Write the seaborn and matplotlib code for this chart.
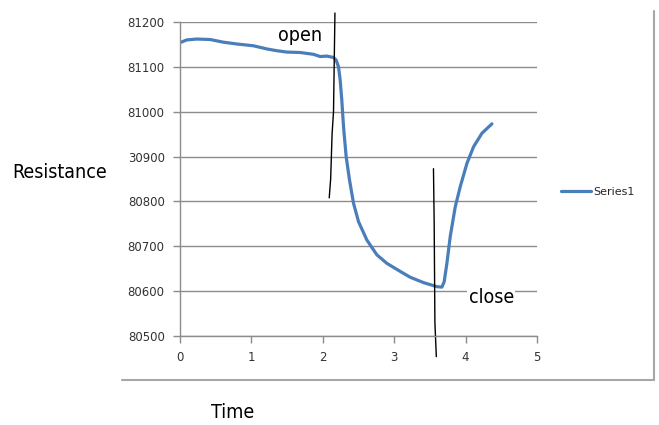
import numpy as np
import pandas as pd
from matplotlib import pyplot as plt
from matplotlib.lines import Line2D
import seaborn as sns

sns.set_style("white")

# resistance curve
time = [0.000, 0.093, 0.234, 0.421, 0.607, 0.794, 1.028, 1.215, 1.355, 1.495,
        1.682, 1.869, 1.963, 2.056, 2.150, 2.187, 2.220, 2.243, 2.266, 2.290,
        2.327, 2.374, 2.430, 2.500, 2.617, 2.757, 2.897, 3.084, 3.224, 3.411,
        3.598, 3.668, 3.700, 3.738, 3.785, 3.855, 3.925, 4.019, 4.112, 4.229,
        4.369]
resistance = [81154, 81160, 81162, 81161, 81155, 81151, 81147, 81140, 81136, 81133,
              81132, 81128, 81123, 81124, 81121, 81115, 81100, 81071, 81026, 80967,
              80900, 80848, 80796, 80755, 80714, 80681, 80662, 80644, 80631, 80619,
              80610, 80609, 80621, 80662, 80722, 80788, 80833, 80885, 80922, 80952,
              80973]

# hand drawn markers
open_x = [2.17, 2.15, 2.13, 2.11, 2.09]
open_y = [81220, 81000, 80950, 80850, 80808]
close_x = [3.55, 3.56, 3.57, 3.59]
close_y = [80873, 80750, 80530, 80454]

yticks = [80500, 80600, 80700, 80800, 80900, 81000, 81100, 81200]
ylabels = ["80500", "80600", "80700", "80800", "30900", "81000", "81100", "81200"]
xticks = [0, 1, 2, 3, 4, 5]

blue = "#4a7ebb"
grid = "#8c8c8c"
big = dict(family="DejaVu Sans", fontstretch="condensed", fontsize=14, color="black")

df = pd.DataFrame({"Time": time, "Resistance": resistance})

fig = plt.figure(figsize=(6.59, 4.25), dpi=100)
ax = fig.add_axes([180 / 659, 1 - 336 / 425, 357 / 659, 314 / 425])

sns.lineplot(data=df, x="Time", y="Resistance", ax=ax, color=blue, lw=2.3,
             sort=False, legend=False)

ax.set_xlim(0, 5)
ax.set_ylim(80500, 81200)
ax.set_xticks(xticks)
ax.set_yticks(yticks)
ax.set_yticklabels(ylabels)
ax.tick_params(axis="both", labelsize=8.5, labelcolor="#333333", color=grid,
               length=5, width=1, direction="out", bottom=True, left=True)
ax.tick_params(axis="y", pad=6)
ax.tick_params(axis="x", pad=6)
ax.grid(axis="y", color=grid, lw=1)
ax.set_axisbelow(True)
for s in ["top", "right"]:
    ax.spines[s].set_visible(False)
for s in ["left", "bottom"]:
    ax.spines[s].set_color(grid)
    ax.spines[s].set_linewidth(1)
ax.set_xlabel("")
ax.set_ylabel("")

ax.plot(open_x, open_y, color="black", lw=1, clip_on=False)
ax.plot(close_x, close_y, color="black", lw=1, clip_on=False)

ax.text(1.68, 81170, "open", ha="center", va="center",
        bbox=dict(facecolor="white", edgecolor="none", pad=1), **big)
ax.text(4.36, 80586, "close", ha="center", va="center",
        bbox=dict(facecolor="white", edgecolor="none", pad=1), **big)

fig.text(60 / 659, 1 - 172 / 425, "Resistance", ha="center", va="center", **big)
fig.text(233 / 659, 1 - 412 / 425, "Time", ha="center", va="center", **big)

# chart frame (right and bottom edges)
fig.add_artist(Line2D([122 / 659, 654 / 659], [1 - 380 / 425, 1 - 380 / 425],
                      transform=fig.transFigure, color="#a6a6a6", lw=1.5))
fig.add_artist(Line2D([654 / 659, 654 / 659], [1 - 380 / 425, 1 - 11 / 425],
                      transform=fig.transFigure, color="#a6a6a6", lw=1.5))

handle = Line2D([], [], color=blue, lw=2.3)
fig.legend([handle], ["Series1"], loc="center left",
           bbox_to_anchor=(561 / 659, 1 - 192 / 425), frameon=False, fontsize=8,
           handlelength=2.7, handletextpad=0.2, borderpad=0, borderaxespad=0)

fig.savefig("out.png", dpi=100)
